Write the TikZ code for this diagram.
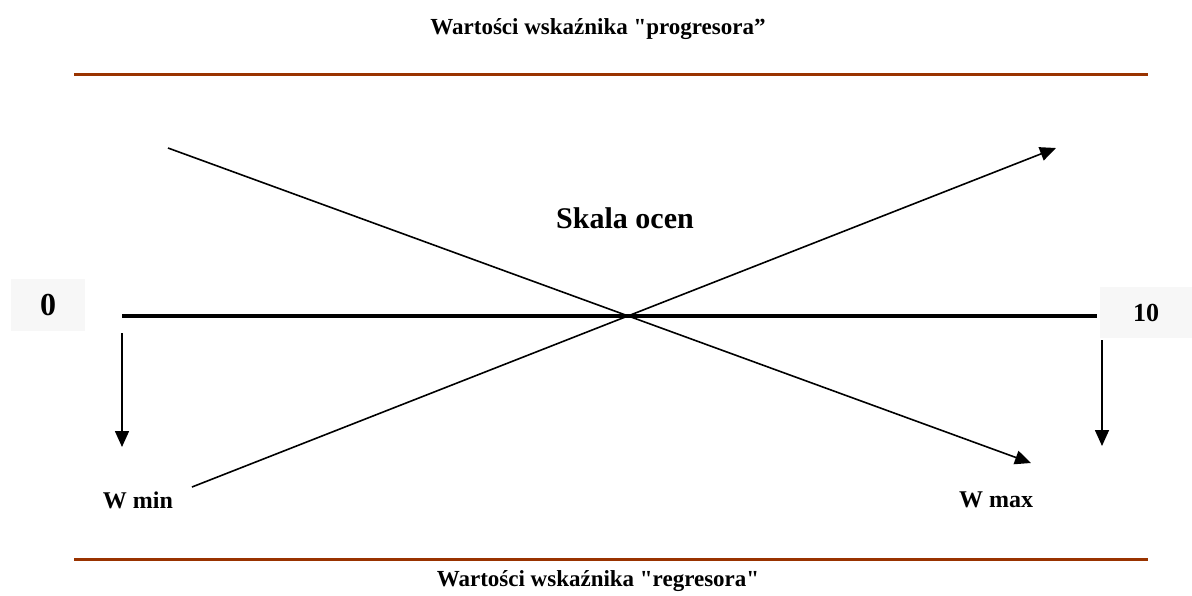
\documentclass[tikz,border=0pt]{standalone}
\usepackage{fontspec}
\setmainfont{Liberation Serif}[Ligatures=TeXOff]
\usetikzlibrary{arrows.meta}
\definecolor{rulebrown}{HTML}{993300}
\definecolor{boxgrey}{HTML}{F7F7F7}
\tikzset{
  lbl/.style={font=\bfseries\fontsize{23}{26}\selectfont, inner sep=0pt},
  wlbl/.style={font=\bfseries\fontsize{24}{27}\selectfont, inner sep=0pt},
  rulebar/.style={draw=rulebrown, line width=3pt},
  conn/.style={draw=black, line width=1.6pt},
  arr/.style={conn, -{Triangle[length=16pt,width=14pt]}},
  numbox/.style={fill=boxgrey, inner sep=0pt, font=\bfseries}
}
\begin{document}
\begin{tikzpicture}[x=1pt,y=-1pt]
\useasboundingbox (0,0) rectangle (1192,595);
% titles
\node[lbl] (ttop) at (598,29) {Wartości wskaźnika "progresora”};
\node[lbl] (tbot) at (598,581) {Wartości wskaźnika "regresora"};
% rules
\coordinate (rt1) at (74,74); \coordinate (rt2) at (1148,74);
\coordinate (rb1) at (74,559); \coordinate (rb2) at (1148,559);
\draw[rulebar] (rt1) -- (rt2);
\draw[rulebar] (rb1) -- (rb2);
% number boxes
\node[numbox, minimum width=74pt, minimum height=52pt, font=\bfseries\fontsize{32}{36}\selectfont] (zero) at (48,305) {0};
\node[numbox, minimum width=92pt, minimum height=51pt, font=\bfseries\fontsize{26}{30}\selectfont] (ten) at (1146,312.5) {10};
% main scale line
\coordinate (sL) at (122,316); \coordinate (sR) at (1097,316);
\draw[draw=black, line width=4pt] (sL) -- (sR);
% Skala ocen
\node[lbl, font=\bfseries\fontsize{30}{34}\selectfont] (skala) at (625,218) {Skala ocen};
% crossing arrows
\coordinate (a1s) at (168,148); \coordinate (a1e) at (1031,463);
\draw[arr] (a1s) -- (a1e);
\coordinate (a2s) at (192,487); \coordinate (a2e) at (1056,148);
\draw[arr] (a2s) -- (a2e);
% down arrows
\coordinate (dl1) at (122,333); \coordinate (dl2) at (122,447);
\draw[arr] (dl1) -- (dl2);
\coordinate (dr1) at (1102,340); \coordinate (dr2) at (1102,446);
\draw[arr] (dr1) -- (dr2);
% W labels
\node[wlbl] (wmin) at (138,500) {W min};
\node[wlbl] (wmax) at (996,500) {W max};
\end{tikzpicture}
\end{document}
